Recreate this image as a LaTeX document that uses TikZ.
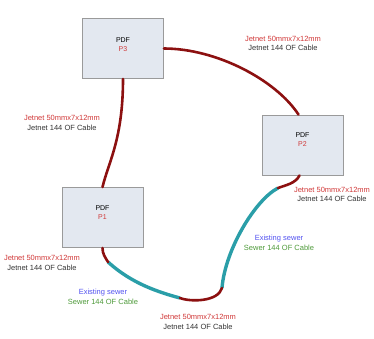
\documentclass[tikz,border=0pt]{standalone}
\usepackage{fontspec}
\setmainfont{Liberation Sans}
\usepackage{xcolor}
\usepackage{tikz}
\usetikzlibrary{positioning}

\definecolor{jetred}{HTML}{8C1010}
\definecolor{sewerteal}{HTML}{2A9EA8}
\definecolor{lblred}{HTML}{D03838}
\definecolor{lbldark}{HTML}{333333}
\definecolor{lblblue}{HTML}{5252F0}
\definecolor{lblgreen}{HTML}{4E9A3A}
\definecolor{boxfill}{HTML}{E3E8F0}
\definecolor{boxgray}{HTML}{9A9A9A}

\begin{document}
\begin{tikzpicture}[x=1pt, y=-1pt,
    pdfbox/.style={rectangle, draw=boxgray, fill=boxfill, line width=0.9pt,
                   minimum width=81pt, minimum height=60pt},
    pdftext/.style={align=center, font=\fontsize{7}{9}\selectfont, inner sep=0pt},
    cablelbl/.style={align=center, font=\fontsize{7.5}{9.5}\selectfont, inner sep=0pt},
    jet/.style={draw=jetred, line width=2.6pt, line cap=round},
    sewer/.style={draw=sewerteal, line width=3.4pt}
]
\useasboundingbox (0,0) rectangle (374,338);

% PDF boxes
\node[pdfbox] (p3) at (123,48.5) {};
\node[pdfbox] (p2) at (302.5,145) {};
\node[pdfbox] (p1) at (102.5,217.5) {};
\node[pdftext] (p3t) at ([yshift=4pt]p3.center) {PDF\\\textcolor{lblred}{P3}};
\node[pdftext] (p2t) at ([yshift=5pt]p2.center) {PDF\\\textcolor{lblred}{P2}};
\node[pdftext] (p1t) at ([yshift=5pt]p1.center) {PDF\\\textcolor{lblred}{P1}};

% cable runs
\coordinate (sw-a) at (278,188);
\coordinate (sw-b) at (222,288);
\coordinate (sw-c) at (180,298);
\coordinate (sw-d) at (108,262);

\draw[jet] (p3.south) .. controls +(0,60) and +(6,-25) .. (p1.north);
\draw[jet] (p3.east) .. controls +(52,0) and +(-23,-35) .. ([xshift=-4pt]p2.north);
\draw[sewer] (sw-a) .. controls +(-23,12) and +(3,-38) .. (sw-b);
\draw[sewer] (sw-c) .. controls +(-30,-8) and +(20,18) .. (sw-d);
\draw[jet] ([xshift=-3pt]p2.south) .. controls +(-4,8) and +(8,-3) .. (sw-a);
\draw[jet] (sw-b) .. controls +(-4,14) and +(10,4) .. (sw-c);
\draw[jet] (sw-d) .. controls +(-3,-5) and +(0,6) .. (p1.south);

% labels
\node[cablelbl] (l-p3p2) at (283,43.5) {\textcolor{lblred}{Jetnet 50mmx7x12mm}\\\textcolor{lbldark}{Jetnet 144 OF Cable}};
\node[cablelbl] (l-p3p1) at (62,123) {\textcolor{lblred}{Jetnet 50mmx7x12mm}\\\textcolor{lbldark}{Jetnet 144 OF Cable}};
\node[cablelbl] (l-p2) at (332,194.5) {\textcolor{lblred}{Jetnet 50mmx7x12mm}\\\textcolor{lbldark}{Jetnet 144 OF Cable}};
\node[cablelbl] (l-sw2) at (279,243) {\textcolor{lblblue}{Existing sewer}\\\textcolor{lblgreen}{Sewer 144 OF Cable}};
\node[cablelbl] (l-p1) at (42,263) {\textcolor{lblred}{Jetnet 50mmx7x12mm}\\\textcolor{lbldark}{Jetnet 144 OF Cable}};
\node[cablelbl] (l-sw1) at (103,297) {\textcolor{lblblue}{Existing sewer}\\\textcolor{lblgreen}{Sewer 144 OF Cable}};
\node[cablelbl] (l-bot) at (198,322) {\textcolor{lblred}{Jetnet 50mmx7x12mm}\\\textcolor{lbldark}{Jetnet 144 OF Cable}};
\end{tikzpicture}
\end{document}
